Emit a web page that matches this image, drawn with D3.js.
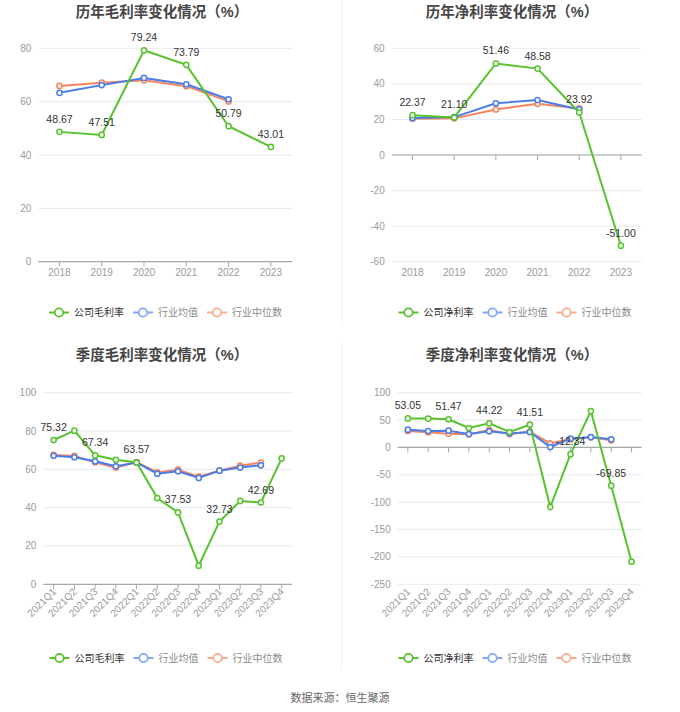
<!DOCTYPE html>
<html>
<head>
<meta charset="utf-8">
<script src="https://cdn.jsdelivr.net/npm/d3@7"></script>
<style>
  body { margin: 0; background: #fff; }
  svg { font-family: "Liberation Sans", "Noto Sans CJK SC", sans-serif; }
</style>
</head>
<body>
<svg id="chart" width="680" height="712"></svg>
<script>
const years = ['2018', '2019', '2020', '2021', '2022', '2023']
const grossCo = [48.67, 47.51, 79.24, 73.79, 50.79, 43.01]
const grossAvg = [63.3, 66.2, 68.9, 66.5, 60.9]
const grossMed = [65.9, 67.1, 68.0, 65.8, 60.1]
const netCo = [22.37, 21.10, 51.46, 48.58, 23.92, -51.00]
const netAvg = [20.8, 21.3, 29.1, 30.9, 25.6]
const netMed = [20.4, 20.6, 25.6, 28.8, 26.2]

const quarters = ['2021Q1', '2021Q2', '2021Q3', '2021Q4', '2022Q1', '2022Q2',
  '2022Q3', '2022Q4', '2023Q1', '2023Q2', '2023Q3', '2023Q4']
const qGrossCo = [75.32, 80.2, 67.34, 65.0, 63.57, 45.0, 37.53, 9.7, 32.73, 43.5, 42.69, 65.7]
const qGrossAvg = [67.1, 66.3, 64.2, 61.6, 63.5, 57.7, 59.0, 55.5, 59.3, 60.9, 62.1]
const qGrossMed = [67.5, 67.0, 63.7, 60.9, 63.8, 58.4, 59.8, 56.2, 59.3, 61.9, 63.5]
const qNetCo = [53.05, 52.8, 51.47, 35.5, 44.22, 28.2, 41.51, -108.9, -12.34, 66.5, -69.85, -208.6]
const qNetAvg = [32.4, 30.0, 30.6, 24.5, 29.4, 25.7, 28.2, 0.8, 16.0, 19.0, 14.8]
const qNetMed = [30.0, 27.6, 25.1, 23.9, 31.8, 24.5, 28.8, 7.5, 14.8, 18.5, 13.0]

const GREEN = '#57c22d'
const BLUE = '#4a7ceb'
const ORANGE = '#f7845a'

const svg = d3.select('#chart')

// faint dividers between the panels
svg.append('line').attr('x1', 342).attr('x2', 342).attr('y1', 0).attr('y2', 325)
  .attr('stroke', '#f0f0f0')
svg.append('line').attr('x1', 342).attr('x2', 342).attr('y1', 343).attr('y2', 671)
  .attr('stroke', '#f0f0f0')

function drawPanel (o) {
  const g = svg.append('g')

  g.append('text')
    .attr('x', o.titleX).attr('y', o.titleY)
    .attr('text-anchor', 'middle')
    .attr('font-size', 14.5).attr('font-weight', 'bold')
    .attr('fill', '#464646')
    .text(o.title)

  const x = d3.scalePoint().domain(o.cats).range([o.left, o.right]).padding(0.5)
  const y = d3.scaleLinear().domain(o.domain).range([o.bottom, o.top])

  // grid
  g.selectAll('.grid').data(o.ticks).enter().append('line')
    .attr('x1', o.left).attr('x2', o.right)
    .attr('y1', d => y(d)).attr('y2', d => y(d))
    .attr('stroke', '#e6e9f1').attr('stroke-width', 1)

  // y labels
  g.selectAll('.yl').data(o.ticks).enter().append('text')
    .attr('x', o.left - 7).attr('y', d => y(d) + 3.5)
    .attr('text-anchor', 'end')
    .attr('font-size', 10).attr('fill', '#9a9a9a')
    .text(d => d)

  // x axis line at zero
  const y0 = y(0)
  g.append('line').attr('x1', o.left).attr('x2', o.right)
    .attr('y1', y0).attr('y2', y0)
    .attr('stroke', '#a8a8a8').attr('stroke-width', 1.2)
  g.selectAll('.xt').data(o.cats).enter().append('line')
    .attr('x1', d => x(d)).attr('x2', d => x(d))
    .attr('y1', y0).attr('y2', y0 + 5)
    .attr('stroke', '#a8a8a8')

  // x labels
  if (o.rotate) {
    g.selectAll('.xl').data(o.cats).enter().append('text')
      .attr('transform', d => `translate(${x(d) + 3},${o.bottom + 8}) rotate(-45)`)
      .attr('text-anchor', 'end')
      .attr('font-size', 10).attr('fill', '#9a9a9a')
      .text(d => d)
  } else {
    g.selectAll('.xl').data(o.cats).enter().append('text')
      .attr('x', d => x(d)).attr('y', o.bottom + 14)
      .attr('text-anchor', 'middle')
      .attr('font-size', 10).attr('fill', '#9a9a9a')
      .text(d => d)
  }

  const line = d3.line().x((d, i) => x(o.cats[i])).y(d => y(d))

  const series = [
    { vals: o.med, color: ORANGE },
    { vals: o.avg, color: BLUE },
    { vals: o.co, color: GREEN }
  ]
  series.forEach(s => {
    g.append('path').datum(s.vals)
      .attr('d', line)
      .attr('fill', 'none').attr('stroke', s.color).attr('stroke-width', 2)
    g.selectAll(null).data(s.vals).enter().append('circle')
      .attr('cx', (d, i) => x(o.cats[i])).attr('cy', d => y(d))
      .attr('r', 2.6)
      .attr('fill', '#fff').attr('stroke', s.color).attr('stroke-width', 1.5)
  })

  // data labels on the company series
  g.selectAll('.dl').data(o.co).enter()
    .filter((d, i) => i % o.labelStep === 0)
    .append('text')
    .attr('x', (d, i) => x(o.cats[i * o.labelStep]))
    .attr('y', d => y(d) - 9)
    .attr('text-anchor', 'middle')
    .attr('font-size', 10.5).attr('fill', '#333')
    .text(d => d.toFixed(2))

  // legend
  const items = [
    { name: o.coName, color: GREEN, text: '#333' },
    { name: '行业均值', color: '#84a8f3', text: '#8a8a8a' },
    { name: '行业中位数', color: '#f9ac8f', text: '#8a8a8a' }
  ]
  const lg = g.append('g')
  let cur = 0
  items.forEach(it => {
    const ig = lg.append('g').attr('transform', `translate(${cur},0)`)
    ig.append('line').attr('x1', 0).attr('x2', 20).attr('y1', 0).attr('y2', 0)
      .attr('stroke', it.color).attr('stroke-width', 2)
    ig.append('circle').attr('cx', 10).attr('cy', 0).attr('r', 4.2)
      .attr('fill', '#fff').attr('stroke', it.color).attr('stroke-width', 1.8)
    const t = ig.append('text').attr('x', 25).attr('y', 3.5)
      .attr('font-size', 10).attr('fill', it.text)
      .text(it.name)
    cur += 25 + t.node().getComputedTextLength() + 9
  })
  const total = cur - 9
  lg.attr('transform', `translate(${o.cx - total / 2},${o.legendY})`)
}

drawPanel({
  title: '历年毛利率变化情况（%）', coName: '公司毛利率',
  cats: years, co: grossCo, avg: grossAvg, med: grossMed,
  left: 38.3, right: 292, top: 48.3, bottom: 261.7,
  domain: [0, 80], ticks: [0, 20, 40, 60, 80],
  cx: 165.5, titleX: 162, titleY: 17, legendY: 312.5, labelStep: 1, rotate: false
})

drawPanel({
  title: '历年净利率变化情况（%）', coName: '公司净利率',
  cats: years, co: netCo, avg: netAvg, med: netMed,
  left: 391.7, right: 641.7, top: 48.3, bottom: 261.7,
  domain: [-60, 60], ticks: [-60, -40, -20, 0, 20, 40, 60],
  cx: 515, titleX: 512, titleY: 17, legendY: 312.5, labelStep: 1, rotate: false
})

drawPanel({
  title: '季度毛利率变化情况（%）', coName: '公司毛利率',
  cats: quarters, co: qGrossCo, avg: qGrossAvg, med: qGrossMed,
  left: 43.3, right: 292, top: 392.7, bottom: 584.3,
  domain: [0, 100], ticks: [0, 20, 40, 60, 80, 100],
  cx: 166, titleX: 162, titleY: 360, legendY: 658, labelStep: 2, rotate: true
})

drawPanel({
  title: '季度净利率变化情况（%）', coName: '公司净利率',
  cats: quarters, co: qNetCo, avg: qNetAvg, med: qNetMed,
  left: 397.7, right: 641.7, top: 392.7, bottom: 584.3,
  domain: [-250, 100], ticks: [-250, -200, -150, -100, -50, 0, 50, 100],
  cx: 515, titleX: 512, titleY: 360, legendY: 658, labelStep: 2, rotate: true
})

svg.append('text')
  .attr('x', 340).attr('y', 702)
  .attr('text-anchor', 'middle')
  .attr('font-size', 11).attr('fill', '#666')
  .text('数据来源：恒生聚源')
</script>
</body>
</html>
